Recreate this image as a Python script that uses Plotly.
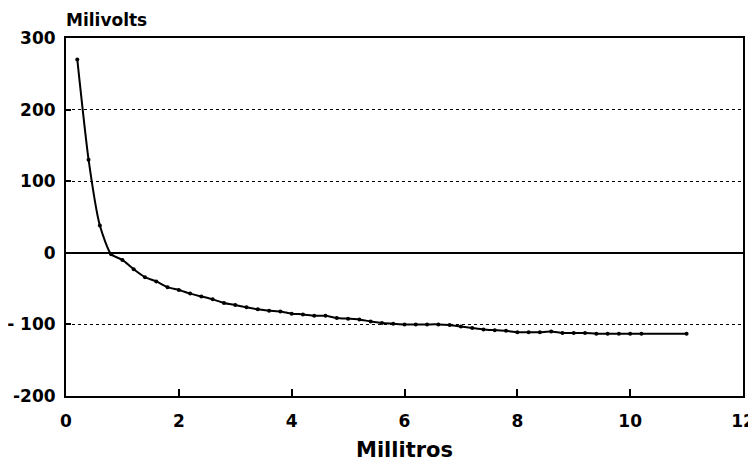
import plotly.graph_objects as go

# Titration data: volume (mL) vs potential (mV)
mililitros = [0.2, 0.4, 0.6, 0.8, 1.0, 1.2, 1.4, 1.6, 1.8, 2.0, 2.2, 2.4, 2.6, 2.8,
              3.0, 3.2, 3.4, 3.6, 3.8, 4.0, 4.2, 4.4, 4.6, 4.8, 5.0, 5.2, 5.4, 5.6,
              5.8, 6.0, 6.2, 6.4, 6.6, 6.8, 7.0, 7.2, 7.4, 7.6, 7.8, 8.0, 8.2, 8.4,
              8.6, 8.8, 9.0, 9.2, 9.4, 9.6, 9.8, 10.0, 10.2, 11.0]
milivolts = [270, 130, 38, -2, -10, -23, -34, -40, -48, -52, -57, -61, -65, -70,
             -73, -76, -79, -81, -82, -85, -86, -88, -88, -91, -92, -93, -96, -98,
             -99, -100, -100, -100, -100, -101, -103, -105, -107, -108, -109, -111, -111, -111,
             -110, -112, -112, -112, -113, -113, -113, -113, -113, -113]

x_ticks = [0, 2, 4, 6, 8, 10, 12]
x_ticklabels = ["0", "2", "4", "6", "8", "10", "12"]
y_ticks = [-200, -100, 0, 100, 200, 300]
y_ticklabels = ["-200", "- 100", "0", "100", "200", "300"]

FONT = "DejaVu Sans"

fig = go.Figure()
fig.add_trace(go.Scatter(
    x=mililitros, y=milivolts, mode="lines+markers",
    line=dict(color="black", width=2, shape="spline", smoothing=0.6),
    marker=dict(color="black", size=4),
    showlegend=False,
))

fig.update_layout(
    width=748, height=455, autosize=False,
    margin=dict(l=58, r=13, t=30, b=67),
    paper_bgcolor="white", plot_bgcolor="white",
    font=dict(family=FONT, color="black"),
    xaxis=dict(
        range=[0, 12], tickvals=x_ticks, ticktext=x_ticklabels,
        ticks="inside", ticklen=7, tickwidth=2, tickcolor="black",
        showline=True, linecolor="black", linewidth=2, mirror=True,
        showgrid=False, zeroline=False, automargin=False,
        tickfont=dict(family=FONT, size=17, weight="bold"),
        ticklabelstandoff=9,
        title=dict(text="Millitros", font=dict(family=FONT, size=21, weight="bold"),
                   standoff=12),
    ),
    yaxis=dict(
        range=[-200, 300], tickvals=y_ticks, ticktext=y_ticklabels,
        ticks="inside", ticklen=5, tickwidth=1.5, tickcolor="black",
        showline=True, linecolor="black", linewidth=2, mirror=True,
        showgrid=True, gridcolor="black", gridwidth=1.2, griddash="dot",
        zeroline=True, zerolinecolor="black", zerolinewidth=2, automargin=False,
        tickfont=dict(family=FONT, size=17, weight="bold"),
        ticklabelstandoff=5,
    ),
    annotations=[dict(
        text="Milivolts", xref="paper", yref="paper", x=0, y=1.0,
        xanchor="left", yanchor="bottom", yshift=6, xshift=-2, showarrow=False,
        font=dict(family=FONT, size=17, weight="bold", color="black"),
    )],
)

fig.write_html("out.html")
